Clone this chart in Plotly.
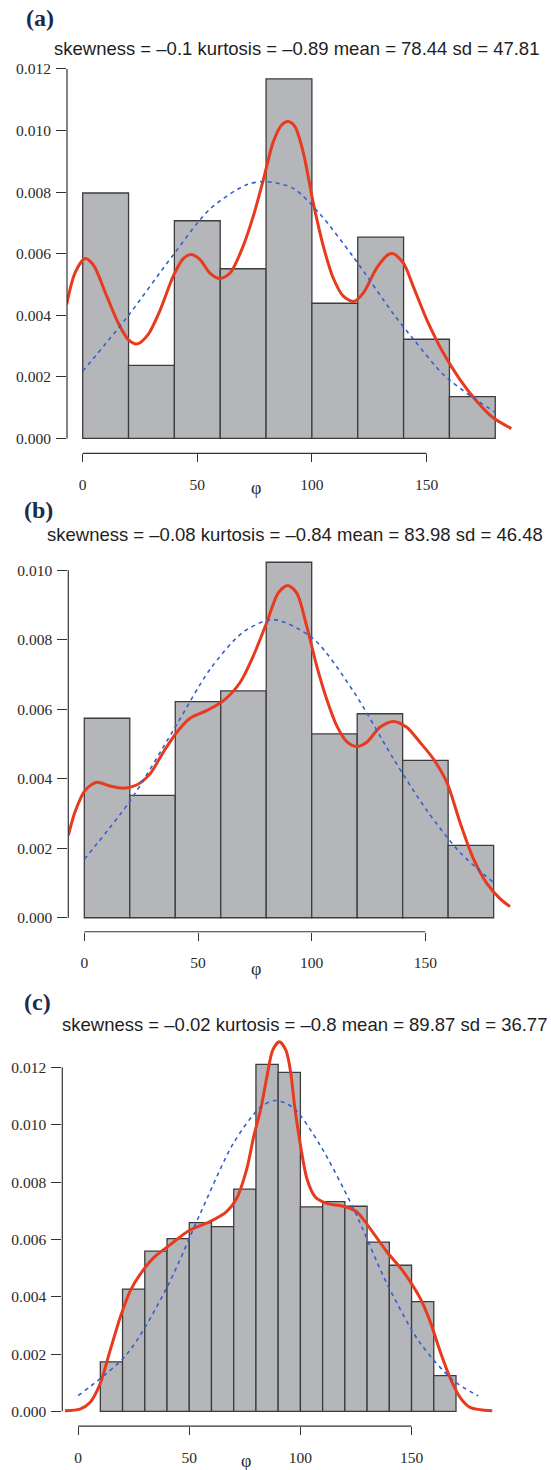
import plotly.graph_objects as go

# ---------------- data ----------------
X_TICKS = [0, 50, 100, 150]

A_EDGES = [0, 20, 40, 60, 80, 100, 120, 140, 160, 180]
A_DENSITY = [0.00797, 0.00237, 0.00707, 0.00551, 0.01168, 0.00439, 0.00654, 0.00322, 0.00136]
A_KDE_X = [-7.0, -3.4, 1.0, 4.6, 10.5, 15.5, 19.9, 23.8, 28.6, 33.7, 39.5, 43.9, 47.3, 51.2, 55.5,
           59.9, 64.3, 69.4, 74.4, 78.8, 83.2, 86.8, 89.6, 92.6, 96.3, 100.6, 105.0, 109.3, 113.7,
           118.1, 122.4, 128.3, 133.3, 135.5, 139.9, 144.2, 150.1, 157.3, 164.6, 171.9, 179.1, 187.0]
A_KDE_Y = [0.00435, 0.00537, 0.00584, 0.00564, 0.00462, 0.00375, 0.00321, 0.00307, 0.00338, 0.00415,
           0.00527, 0.00584, 0.00597, 0.00581, 0.00537, 0.00519, 0.00537, 0.00613, 0.00721, 0.0084,
           0.00964, 0.01018, 0.01029, 0.01013, 0.00927, 0.00764, 0.00624, 0.00521, 0.00462, 0.00445,
           0.00472, 0.00554, 0.00597, 0.006, 0.0057, 0.00494, 0.00386, 0.00278, 0.00191, 0.00121,
           0.00067, 0.00032]
A_NORM_X = [0, 19.2, 39.5, 55.5, 71.5, 80.3, 91.9, 103.5, 118.1, 135.5, 144.3, 157, 169, 180]
A_NORM_Y = [0.00218, 0.00392, 0.00596, 0.00745, 0.00824, 0.00834, 0.00812, 0.00729, 0.00589,
            0.00405, 0.00322, 0.0021, 0.00139, 0.00085]
A_YTICKS = [0.000, 0.002, 0.004, 0.006, 0.008, 0.010, 0.012]
A_TITLE = "skewness = \u20130.1 kurtosis = \u20130.89 mean = 78.44 sd = 47.81"

B_EDGES = [0, 20, 40, 60, 80, 100, 120, 140, 160, 180]
B_DENSITY = [0.00574, 0.00352, 0.00622, 0.00653, 0.01023, 0.00529, 0.00587, 0.00453, 0.00208]
B_KDE_X = [-7.0, -4.1, 0.3, 5.4, 11.3, 17.2, 23.0, 28.9, 34.7, 40.6, 46.5, 53.8, 61.1, 68.5, 74.3,
           80.2, 85.3, 89.4, 93.4, 97.8, 102.2, 106.6, 111.0, 115.4, 119.8, 124.2, 130.0, 135.9,
           141.8, 147.6, 153.5, 159.4, 165.2, 171.1, 177.0, 182.8, 187.2]
B_KDE_Y = [0.00237, 0.00304, 0.00366, 0.0039, 0.00379, 0.00373, 0.00382, 0.00414, 0.00476, 0.00533,
           0.00574, 0.00596, 0.00624, 0.00677, 0.00753, 0.00849, 0.00935, 0.00956, 0.00935, 0.00839,
           0.00725, 0.00629, 0.00553, 0.00507, 0.00493, 0.00505, 0.00548, 0.00565, 0.00548, 0.00505,
           0.00457, 0.0039, 0.00275, 0.0017, 0.00099, 0.00055, 0.00032]
B_NORM_X = [0, 20.1, 39.2, 55.3, 69.9, 83.1, 100.7, 118.3, 135.9, 150.5, 165.2, 180]
B_NORM_Y = [0.00168, 0.00336, 0.0054, 0.00715, 0.00822, 0.00858, 0.00803, 0.00652, 0.00458,
            0.0031, 0.00188, 0.00101]
B_YTICKS = [0.000, 0.002, 0.004, 0.006, 0.008, 0.010]
B_TITLE = "skewness = \u20130.08 kurtosis = \u20130.84 mean = 83.98 sd = 46.48"

C_EDGES = [10, 20, 30, 40, 50, 60, 70, 80, 90, 100, 110, 120, 130, 140, 150, 160, 170]
C_DENSITY = [0.00173, 0.00427, 0.00559, 0.00603, 0.00659, 0.00645, 0.00776, 0.01211, 0.01183,
             0.00714, 0.00732, 0.00716, 0.00591, 0.0051, 0.00383, 0.00125]
C_KDE_X = [-5.9, 0.85, 5.35, 9.85, 14.35, 18.85, 23.35, 27.8, 33.8, 41.3, 50.3, 59.3, 66.8, 71.3,
           76, 79, 82, 85, 87.5, 90.5, 93.5, 95.5, 97.5, 100, 103, 106.6, 111.8, 119.3, 125.3,
           131.3, 138.8, 146.3, 153.8, 158.3, 162.8, 167.3, 171.8, 176.3, 186.3]
C_KDE_Y = [0.00002, 0.00008, 0.00031, 0.00095, 0.00211, 0.00326, 0.00419, 0.00477, 0.00535, 0.00581,
           0.00633, 0.00662, 0.00697, 0.00743, 0.0085, 0.0096, 0.0105, 0.0117, 0.0126, 0.0129,
           0.0126, 0.0119, 0.0106, 0.0093, 0.0081, 0.00749, 0.00726, 0.00716, 0.00697, 0.00639,
           0.00558, 0.00488, 0.00396, 0.00315, 0.00211, 0.00118, 0.00049, 0.00014, 0.00002]
C_NORM_X = [0, 21.8, 39.8, 54.8, 69.8, 81.8, 88.6, 96.8, 108.8, 123.8, 138.8, 153.8, 168.8, 180]
C_NORM_Y = [0.00055, 0.00198, 0.0043, 0.00688, 0.00935, 0.0106, 0.01085, 0.0106, 0.0093, 0.00709,
            0.00448, 0.00239, 0.00108, 0.00054]
C_YTICKS = [0.000, 0.002, 0.004, 0.006, 0.008, 0.010, 0.012]
C_TITLE = "skewness = \u20130.02 kurtosis = \u20130.8 mean = 89.87 sd = 36.77"

# ---------------- layout geometry (pixels) ----------------
W, H = 551, 1470
GEOM = [
    dict(tag="(a)", left=67, right=515, x0=82.7, xs=2.292, y0=439, ys=30.83,
         ymin=-0.0002, ymax=0.0125, axis_y=454, lab=(40, 18), title=(52, 49), phi_y=489),
    dict(tag="(b)", left=68.3, right=515, x0=84.3, xs=2.274, y0=919, ys=34.8,
         ymin=-0.0002, ymax=0.0105, axis_y=933, lab=(38, 511), title=(45, 535), phi_y=970),
    dict(tag="(c)", left=62.3, right=500, x0=78.1, xs=2.223, y0=1413.3, ys=28.69,
         ymin=-0.0003, ymax=0.0132, axis_y=1428, lab=(37, 1003), title=(60, 1026), phi_y=1463),
]
PANELS = [
    (A_EDGES, A_DENSITY, A_KDE_X, A_KDE_Y, A_NORM_X, A_NORM_Y, A_YTICKS, A_TITLE),
    (B_EDGES, B_DENSITY, B_KDE_X, B_KDE_Y, B_NORM_X, B_NORM_Y, B_YTICKS, B_TITLE),
    (C_EDGES, C_DENSITY, C_KDE_X, C_KDE_Y, C_NORM_X, C_NORM_Y, C_YTICKS, C_TITLE),
]

AXIS_COLOR = "#333333"
SERIF = "Liberation Serif"
SANS = "Liberation Sans"

fig = go.Figure()
shapes, annotations = [], []
layout = {}

for i, (g, (edges, dens, kx, ky, nx, ny, yticks, title)) in enumerate(zip(GEOM, PANELS)):
    n = "" if i == 0 else str(i + 1)
    xa, ya = "x" + n, "y" + n
    centers = [(edges[k] + edges[k + 1]) / 2 for k in range(len(dens))]
    widths = [edges[k + 1] - edges[k] for k in range(len(dens))]

    fig.add_trace(go.Bar(x=centers, y=dens, width=widths, xaxis=xa, yaxis=ya,
                         marker=dict(color="#b5b6ba", line=dict(color="#3c3c3c", width=1.3)),
                         showlegend=False, hoverinfo="skip"))
    fig.add_trace(go.Scatter(x=kx, y=ky, xaxis=xa, yaxis=ya, mode="lines",
                             line=dict(color="#e83a1f", width=3, shape="spline", smoothing=0.8),
                             showlegend=False, hoverinfo="skip"))
    fig.add_trace(go.Scatter(x=nx, y=ny, xaxis=xa, yaxis=ya, mode="lines",
                             line=dict(color="#355fd4", width=1.6, dash="4px,4px",
                                       shape="spline", smoothing=0.8),
                             showlegend=False, hoverinfo="skip"))

    xmin = (g["left"] - g["x0"]) / g["xs"]
    xmax = (g["right"] - g["x0"]) / g["xs"]
    bot_px = g["y0"] - g["ymin"] * 1000 * g["ys"]
    top_px = g["y0"] - g["ymax"] * 1000 * g["ys"]
    axis_pos = 1 - g["axis_y"] / H

    layout["xaxis" + n] = dict(
        domain=[g["left"] / W, g["right"] / W], range=[xmin, xmax], anchor="free",
        position=axis_pos, tickvals=X_TICKS, ticks="outside", ticklen=8, tickwidth=1.2,
        tickcolor=AXIS_COLOR, showline=False, showgrid=False, zeroline=False,
        tickfont=dict(family=SERIF, size=15.5, color="#2a2a2a"), ticklabelstandoff=9,
        fixedrange=True)
    layout["yaxis" + n] = dict(
        domain=[1 - bot_px / H, 1 - top_px / H], range=[g["ymin"], g["ymax"]], anchor=xa,
        tickvals=yticks, tickformat=".3f", ticks="outside", ticklen=10, tickwidth=1.2,
        tickcolor=AXIS_COLOR, showline=False, showgrid=False, zeroline=False,
        tickfont=dict(family=SERIF, size=15.5, color="#2a2a2a"), ticklabelstandoff=2,
        fixedrange=True)

    shapes.append(dict(type="line", xref=xa + " domain", yref=ya, x0=0, x1=0,
                       y0=yticks[0], y1=yticks[-1], line=dict(color=AXIS_COLOR, width=1.2)))
    shapes.append(dict(type="line", xref=xa, yref="paper", x0=X_TICKS[0], x1=X_TICKS[-1],
                       y0=axis_pos, y1=axis_pos, line=dict(color=AXIS_COLOR, width=1.2)))

    annotations.append(dict(text="<b>" + g["tag"] + "</b>", xref="paper", yref="paper",
                            x=g["lab"][0] / W, y=1 - g["lab"][1] / H, xanchor="center",
                            yanchor="middle", showarrow=False,
                            font=dict(family=SERIF, size=24, color="#1c2a4c")))
    annotations.append(dict(text=title, xref="paper", yref="paper",
                            x=g["title"][0] / W, y=1 - g["title"][1] / H, xanchor="left",
                            yanchor="middle", showarrow=False,
                            font=dict(family=SANS, size=18.5, color="#1e1e1e")))
    annotations.append(dict(text="\u03c6", xref=xa, yref="paper", x=75.5,
                            y=1 - g["phi_y"] / H, xanchor="center", yanchor="middle",
                            showarrow=False, font=dict(family=SERIF, size=18, color="#2a2a2a")))

fig.update_layout(width=W, height=H, margin=dict(l=0, r=0, t=0, b=0),
                  paper_bgcolor="white", plot_bgcolor="white", showlegend=False,
                  shapes=shapes, annotations=annotations, **layout)

fig.write_html("out.html")
